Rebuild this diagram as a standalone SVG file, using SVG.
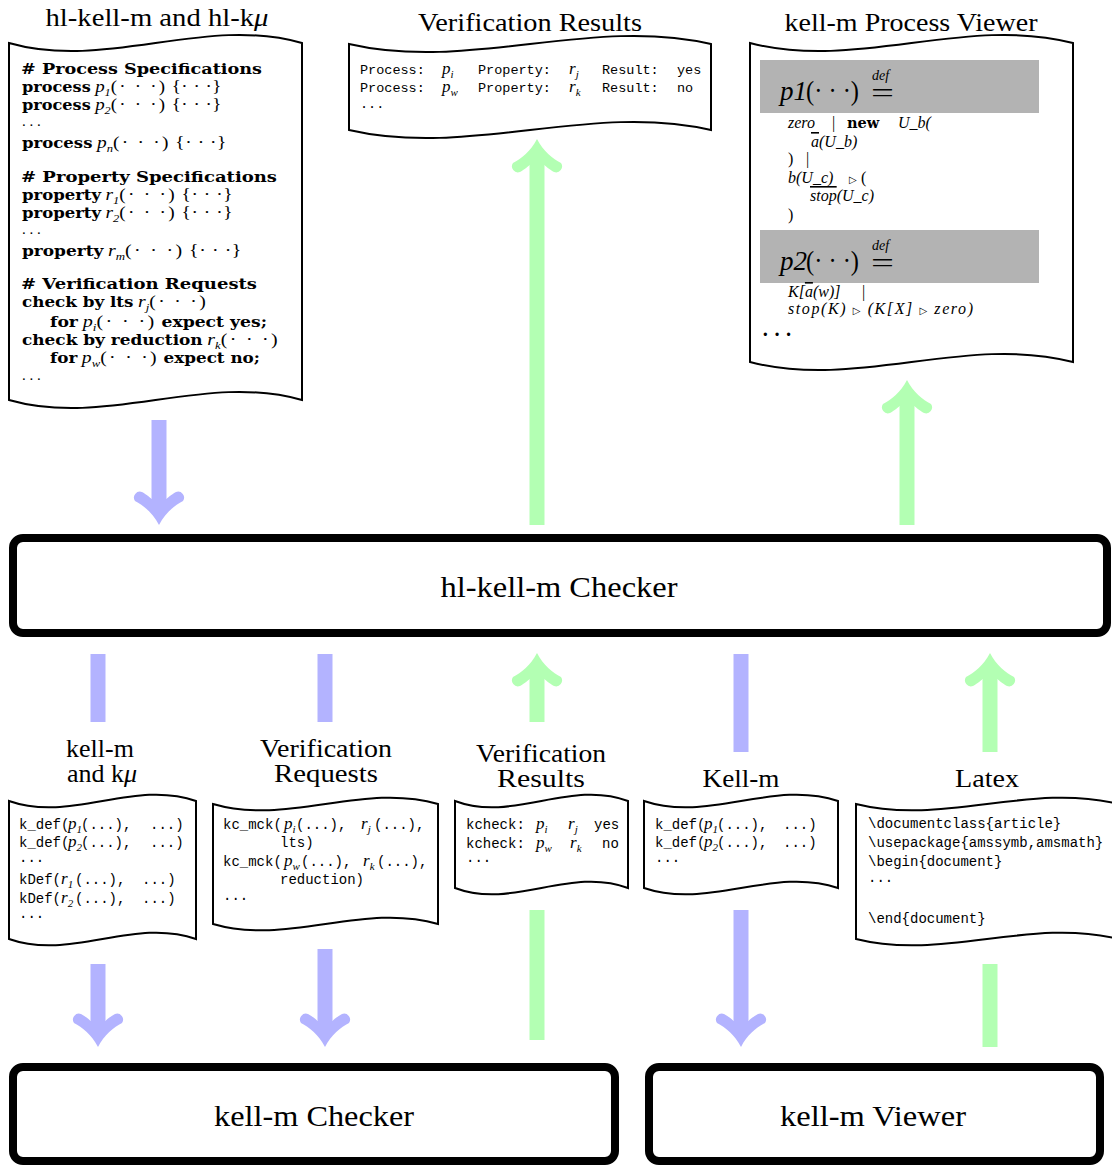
<svg xmlns="http://www.w3.org/2000/svg" xmlns:xlink="http://www.w3.org/1999/xlink" width="1112" height="1165" viewBox="0 0 1112 1165">
<style>
.doc{fill:#fff;stroke:#000;stroke-width:2}
.box{fill:#fff;stroke:#000;stroke-width:8}
.gray{fill:#b3b3b3}
.blue{fill:#b3b3ff}
.green{fill:#b3ffb3}
text{font-family:"Liberation Serif",serif;fill:#000}
.title{font-size:26px;text-anchor:middle}
.lbl{font-size:30px;text-anchor:middle}
.bf{font-family:"DejaVu Serif",serif;font-weight:bold;font-style:normal;font-size:14.5px}
.mi{font-style:italic;font-size:17px}
.sb{font-style:italic;font-size:11px;baseline-shift:-4px}
.pd{font-size:17px;letter-spacing:2px}
.bd{font-size:17px;letter-spacing:0.5px}
.rm{font-size:15px}
.tt{font-family:"Liberation Mono",monospace;font-size:14px}
.tt2{font-family:"Liberation Mono",monospace;font-size:13.5px}
.vi{font-style:italic;font-size:16px}
.up{font-style:normal}
.tri{font-family:"DejaVu Sans",sans-serif;font-style:normal;font-size:10px}
.ov{text-decoration:overline}
</style>
<defs>
<path id="hd" d="M0,0 C-6,-12 -16,-20 -24,-24 A6,6 0 0 1 -17,-33 C-12,-30 -8,-27 -7.5,-26 L7.5,-26 C8,-27 12,-30 17,-33 A6,6 0 0 1 24,-24 C16,-20 6,-12 0,0 Z"/>
</defs>

<g id="connectors">
  <rect class="blue" x="151.5" y="420" width="15" height="80"/>
  <use xlink:href="#hd" class="blue" transform="translate(159,525)"/>
  <rect class="green" x="529.5" y="164" width="15" height="361"/>
  <use xlink:href="#hd" class="green" transform="translate(537,139) rotate(180)"/>
  <rect class="green" x="899.5" y="405" width="15" height="120"/>
  <use xlink:href="#hd" class="green" transform="translate(907,380) rotate(180)"/>
  <rect class="blue" x="90.5" y="654" width="15" height="68"/>
  <rect class="blue" x="90.5" y="964" width="15" height="58"/>
  <use xlink:href="#hd" class="blue" transform="translate(98,1047)"/>
  <rect class="blue" x="317.5" y="654" width="15" height="68"/>
  <rect class="blue" x="317.5" y="949" width="15" height="73"/>
  <use xlink:href="#hd" class="blue" transform="translate(325,1047)"/>
  <rect class="green" x="529.5" y="910" width="15" height="130"/>
  <rect class="green" x="529.5" y="678" width="15" height="44"/>
  <use xlink:href="#hd" class="green" transform="translate(537,653) rotate(180)"/>
  <rect class="blue" x="733.5" y="654" width="15" height="98"/>
  <rect class="blue" x="733.5" y="910" width="15" height="112"/>
  <use xlink:href="#hd" class="blue" transform="translate(741,1047)"/>
  <rect class="green" x="982.5" y="964" width="15" height="83"/>
  <rect class="green" x="982.5" y="678" width="15" height="74"/>
  <use xlink:href="#hd" class="green" transform="translate(990,653) rotate(180)"/>
</g>

<g id="doc-hl-spec">
  <text class="title" x="157" y="26" textLength="223" lengthAdjust="spacingAndGlyphs">hl-kell-m and hl-k<tspan font-style="italic">μ</tspan></text>
  <path class="doc" d="M9,43 C106.7,71 204.3,15 302,43 L302,400 C204.3,372 106.7,428 9,400 Z"/>
  <text x="21" y="74" class="bf" textLength="241" lengthAdjust="spacingAndGlyphs"># Process Specifications</text>
  <text x="22" y="92" textLength="200" lengthAdjust="spacingAndGlyphs"><tspan class="bf">process</tspan> <tspan class="mi">p</tspan><tspan class="sb">1</tspan><tspan class="pd">(· · ·)</tspan> <tspan class="bd">{· · ·}</tspan></text>
  <text x="22" y="110" textLength="200" lengthAdjust="spacingAndGlyphs"><tspan class="bf">process</tspan> <tspan class="mi">p</tspan><tspan class="sb">2</tspan><tspan class="pd">(· · ·)</tspan> <tspan class="bd">{· · ·}</tspan></text>
  <text x="22" y="126" class="rm">. . .</text>
  <text x="22" y="148" textLength="205" lengthAdjust="spacingAndGlyphs"><tspan class="bf">process</tspan> <tspan class="mi">p</tspan><tspan class="sb">n</tspan><tspan class="pd">(· · ·)</tspan> <tspan class="bd">{· · ·}</tspan></text>
  <text x="21" y="182" class="bf" textLength="256" lengthAdjust="spacingAndGlyphs"># Property Specifications</text>
  <text x="22" y="200" textLength="211" lengthAdjust="spacingAndGlyphs"><tspan class="bf">property</tspan> <tspan class="mi">r</tspan><tspan class="sb">1</tspan><tspan class="pd">(· · ·)</tspan> <tspan class="bd">{· · ·}</tspan></text>
  <text x="22" y="218" textLength="211" lengthAdjust="spacingAndGlyphs"><tspan class="bf">property</tspan> <tspan class="mi">r</tspan><tspan class="sb">2</tspan><tspan class="pd">(· · ·)</tspan> <tspan class="bd">{· · ·}</tspan></text>
  <text x="22" y="234" class="rm">. . .</text>
  <text x="22" y="256" textLength="220" lengthAdjust="spacingAndGlyphs"><tspan class="bf">property</tspan> <tspan class="mi">r</tspan><tspan class="sb">m</tspan><tspan class="pd">(· · ·)</tspan> <tspan class="bd">{· · ·}</tspan></text>
  <text x="21" y="289" class="bf" textLength="236" lengthAdjust="spacingAndGlyphs"># Verification Requests</text>
  <text x="22" y="307" textLength="186" lengthAdjust="spacingAndGlyphs"><tspan class="bf">check by lts</tspan> <tspan class="mi">r</tspan><tspan class="sb">j</tspan><tspan class="pd">(· · ·)</tspan></text>
  <text x="50" y="327" textLength="217" lengthAdjust="spacingAndGlyphs"><tspan class="bf">for</tspan> <tspan class="mi">p</tspan><tspan class="sb">i</tspan><tspan class="pd">(· · ·)</tspan> <tspan class="bf">expect yes;</tspan></text>
  <text x="22" y="345" textLength="258" lengthAdjust="spacingAndGlyphs"><tspan class="bf">check by reduction</tspan> <tspan class="mi">r</tspan><tspan class="sb">k</tspan><tspan class="pd">(· · ·)</tspan></text>
  <text x="50" y="363" textLength="210" lengthAdjust="spacingAndGlyphs"><tspan class="bf">for</tspan> <tspan class="mi">p</tspan><tspan class="sb">w</tspan><tspan class="pd">(· · ·)</tspan> <tspan class="bf">expect no;</tspan></text>
  <text x="22" y="380" class="rm">. . .</text>
</g>

<g id="doc-results-top">
  <text class="title" x="530" y="31" textLength="224" lengthAdjust="spacingAndGlyphs">Verification Results</text>
  <path class="doc" d="M349,44 C469.7,72 590.3,16 711,44 L711,130 C590.3,102 469.7,158 349,130 Z"/>
  <text y="74"><tspan x="360" class="tt2">Process:</tspan><tspan x="442" class="mi">p</tspan><tspan class="sb">i</tspan><tspan x="478" class="tt2">Property:</tspan><tspan x="569" class="mi">r</tspan><tspan class="sb">j</tspan><tspan x="602" class="tt2">Result:</tspan><tspan x="677" class="tt2">yes</tspan></text>
  <text y="92"><tspan x="360" class="tt2">Process:</tspan><tspan x="442" class="mi">p</tspan><tspan class="sb">w</tspan><tspan x="478" class="tt2">Property:</tspan><tspan x="569" class="mi">r</tspan><tspan class="sb">k</tspan><tspan x="602" class="tt2">Result:</tspan><tspan x="677" class="tt2">no</tspan></text>
  <text x="360" y="108" class="tt2">...</text>
</g>

<g id="doc-process-viewer">
  <text class="title" x="911" y="31" textLength="253" lengthAdjust="spacingAndGlyphs">kell-m Process Viewer</text>
  <path class="doc" d="M750,43 C857.7,71 965.3,15 1073,43 L1073,362 C965.3,334 857.7,390 750,362 Z"/>
  <rect class="gray" x="760" y="60" width="279" height="53"/>
  <text y="100" font-size="27"><tspan x="780" font-style="italic">p1</tspan><tspan x="806" textLength="53" lengthAdjust="spacingAndGlyphs">(· · ·)</tspan></text>
  <text><tspan x="872" y="80" font-size="14" font-style="italic">def</tspan><tspan x="871" y="102" font-size="28" textLength="23" lengthAdjust="spacingAndGlyphs">=</tspan></text>
  <text y="128" class="vi"><tspan x="788">zero</tspan><tspan x="832" class="up">|</tspan><tspan x="847" class="bf">new</tspan><tspan x="898">U_b(</tspan></text>
  <text y="147" class="vi"><tspan x="811" class="ov">a</tspan><tspan>(U_b)</tspan></text>
  <text y="164" class="vi"><tspan x="788" class="up">)</tspan><tspan x="806" class="up">|</tspan></text>
  <text y="183" class="vi"><tspan x="788">b(U_c)</tspan><tspan x="849" class="tri">▷</tspan><tspan x="861" class="up">(</tspan></text>
  <text y="201" class="vi"><tspan x="810" class="ov">stop</tspan><tspan>(U_c)</tspan></text>
  <text y="220" class="vi"><tspan x="788" class="up">)</tspan></text>
  <rect class="gray" x="760" y="230" width="279" height="53"/>
  <text y="270" font-size="27"><tspan x="780" font-style="italic">p2</tspan><tspan x="806" textLength="53" lengthAdjust="spacingAndGlyphs">(· · ·)</tspan></text>
  <text><tspan x="872" y="250" font-size="14" font-style="italic">def</tspan><tspan x="871" y="272" font-size="28" textLength="23" lengthAdjust="spacingAndGlyphs">=</tspan></text>
  <text y="297" class="vi"><tspan x="788">K[</tspan><tspan class="ov">a</tspan><tspan>(w)]</tspan><tspan x="862" class="up">|</tspan></text>
  <text x="788" y="314" class="vi" textLength="185" lengthAdjust="spacing">stop(K) <tspan class="tri">▷</tspan> (K[X] <tspan class="tri">▷</tspan> zero)</text>
  <text x="762" y="341" font-size="20" font-weight="bold">· · ·</text>
</g>

<g id="hl-kell-m-checker">
  <rect class="box" x="13" y="538" width="1094" height="95" rx="10"/>
  <text class="lbl" x="559" y="597" textLength="237" lengthAdjust="spacingAndGlyphs">hl-kell-m Checker</text>
</g>

<g id="doc-kellm-kmu">
  <text class="title"><tspan x="100" y="757">kell-m</tspan><tspan x="102" y="782">and k<tspan font-style="italic">μ</tspan></tspan></text>
  <path class="doc" d="M9,801 C71.3,823 133.7,779 196,801 L196,939 C133.7,917 71.3,961 9,939 Z"/>
  <text y="829"><tspan x="19" class="tt">k_def(</tspan><tspan x="68" class="mi">p</tspan><tspan class="sb">1</tspan><tspan x="81" class="tt">(...),</tspan><tspan x="150" class="tt">...)</tspan></text>
  <text y="847"><tspan x="19" class="tt">k_def(</tspan><tspan x="68" class="mi">p</tspan><tspan class="sb">2</tspan><tspan x="81" class="tt">(...),</tspan><tspan x="150" class="tt">...)</tspan></text>
  <text x="19" y="862" class="tt">...</text>
  <text y="884"><tspan x="19" class="tt">kDef(</tspan><tspan x="61" class="mi">r</tspan><tspan class="sb">1</tspan><tspan x="75" class="tt">(...),</tspan><tspan x="142" class="tt">...)</tspan></text>
  <text y="903"><tspan x="19" class="tt">kDef(</tspan><tspan x="61" class="mi">r</tspan><tspan class="sb">2</tspan><tspan x="75" class="tt">(...),</tspan><tspan x="142" class="tt">...)</tspan></text>
  <text x="19" y="918" class="tt">...</text>
</g>

<g id="doc-verification-requests">
  <text class="title"><tspan x="326" y="757" textLength="132" lengthAdjust="spacingAndGlyphs">Verification</tspan><tspan x="326" y="782" textLength="104" lengthAdjust="spacingAndGlyphs">Requests</tspan></text>
  <path class="doc" d="M213,804 C288,826 363,782 438,804 L438,924 C363,902 288,946 213,924 Z"/>
  <text y="829"><tspan x="223" class="tt">kc_mck(</tspan><tspan x="284" class="mi">p</tspan><tspan class="sb">i</tspan><tspan x="296" class="tt">(...),</tspan><tspan x="361" class="mi">r</tspan><tspan class="sb">j</tspan><tspan x="374" class="tt">(...),</tspan></text>
  <text x="280" y="847" class="tt">lts)</text>
  <text y="866"><tspan x="223" class="tt">kc_mck(</tspan><tspan x="284" class="mi">p</tspan><tspan class="sb">w</tspan><tspan x="301" class="tt">(...),</tspan><tspan x="363" class="mi">r</tspan><tspan class="sb">k</tspan><tspan x="377" class="tt">(...),</tspan></text>
  <text x="280" y="884" class="tt">reduction)</text>
  <text x="223" y="900" class="tt">...</text>
</g>

<g id="doc-verification-results">
  <text class="title"><tspan x="541" y="762" textLength="130" lengthAdjust="spacingAndGlyphs">Verification</tspan><tspan x="541" y="787" textLength="88" lengthAdjust="spacingAndGlyphs">Results</tspan></text>
  <path class="doc" d="M455,801 C512.7,823 570.3,779 628,801 L628,888 C570.3,866 512.7,910 455,888 Z"/>
  <text y="829"><tspan x="466" class="tt">kcheck:</tspan><tspan x="536" class="mi">p</tspan><tspan class="sb">i</tspan><tspan x="568" class="mi">r</tspan><tspan class="sb">j</tspan><tspan x="594" class="tt">yes</tspan></text>
  <text y="848"><tspan x="466" class="tt">kcheck:</tspan><tspan x="536" class="mi">p</tspan><tspan class="sb">w</tspan><tspan x="570" class="mi">r</tspan><tspan class="sb">k</tspan><tspan x="602" class="tt">no</tspan></text>
  <text x="466" y="862" class="tt">...</text>
</g>

<g id="doc-kellm">
  <text class="title" x="741" y="787" textLength="77" lengthAdjust="spacingAndGlyphs">Kell-m</text>
  <path class="doc" d="M644,801 C708.7,823 773.3,779 838,801 L838,888 C773.3,866 708.7,910 644,888 Z"/>
  <text y="829"><tspan x="655" class="tt">k_def(</tspan><tspan x="704" class="mi">p</tspan><tspan class="sb">1</tspan><tspan x="717" class="tt">(...),</tspan><tspan x="783" class="tt">...)</tspan></text>
  <text y="847"><tspan x="655" class="tt">k_def(</tspan><tspan x="704" class="mi">p</tspan><tspan class="sb">2</tspan><tspan x="717" class="tt">(...),</tspan><tspan x="783" class="tt">...)</tspan></text>
  <text x="655" y="862" class="tt">...</text>
</g>

<g id="doc-latex">
  <text class="title" x="987" y="787" textLength="64" lengthAdjust="spacingAndGlyphs">Latex</text>
  <path class="doc" d="M856,804 C943.3,826 1030.7,782 1118,804 L1118,939 C1030.7,917 943.3,961 856,939 Z"/>
  <text x="868" y="828" class="tt">\documentclass{article}</text>
  <text x="868" y="847" class="tt">\usepackage{amssymb,amsmath}</text>
  <text x="868" y="866" class="tt">\begin{document}</text>
  <text x="868" y="882" class="tt">...</text>
  <text x="868" y="923" class="tt">\end{document}</text>
</g>

<g id="kell-m-checker">
  <rect class="box" x="13" y="1067" width="602" height="94" rx="10"/>
  <text class="lbl" x="314" y="1126" textLength="200" lengthAdjust="spacingAndGlyphs">kell-m Checker</text>
</g>

<g id="kell-m-viewer">
  <rect class="box" x="649" y="1067" width="451" height="94" rx="10"/>
  <text class="lbl" x="873" y="1126" textLength="186" lengthAdjust="spacingAndGlyphs">kell-m Viewer</text>
</g>
</svg>
